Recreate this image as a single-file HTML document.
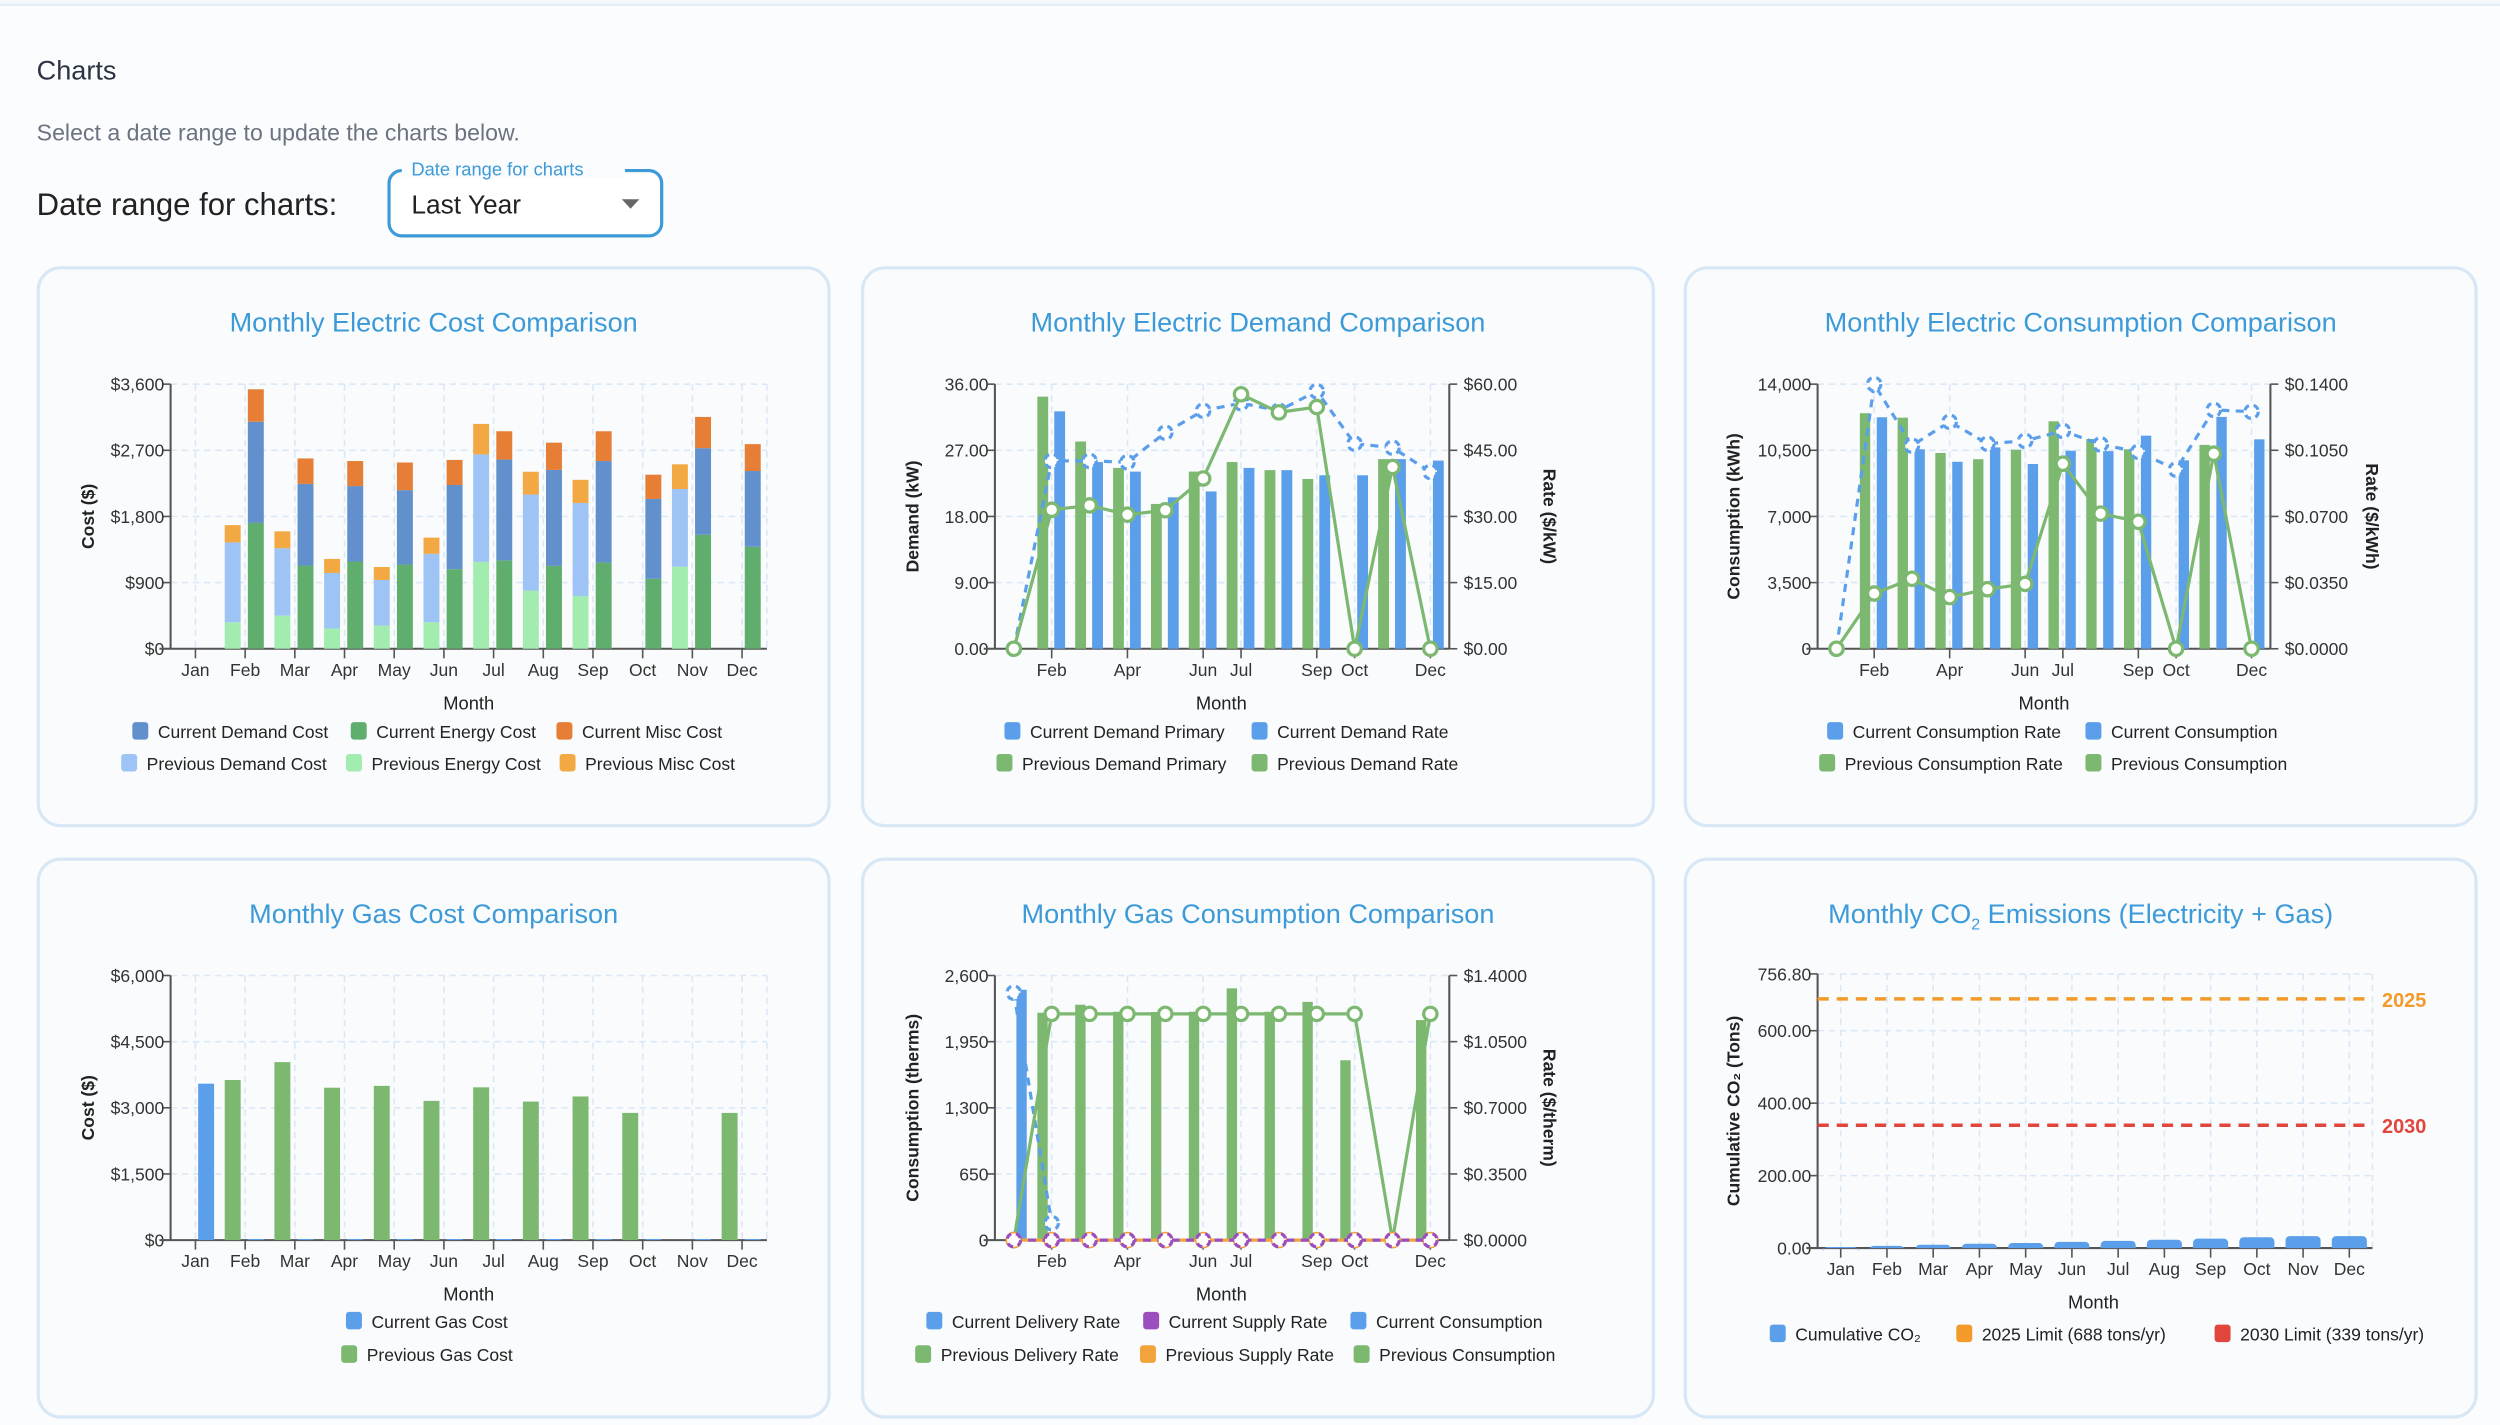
<!DOCTYPE html>
<html><head><meta charset="utf-8"><title>Charts</title>
<style>
html,body{margin:0;padding:0;background:#f4f7fb;}
svg{display:block;font-family:"Liberation Sans",sans-serif;}
</style></head>
<body>
<svg id="root" xmlns="http://www.w3.org/2000/svg" width="2500" height="1425" viewBox="0 0 1568 894" preserveAspectRatio="none"></svg>
<script>
// ---------- DATA ----------
const months = ['Jan','Feb','Mar','Apr','May','Jun','Jul','Aug','Sep','Oct','Nov','Dec'];
// Chart 1: electric cost
const elecCostTicks = [0, 900, 1800, 2700, 3600];
const elecCostTickLabels = ['$0', '$900', '$1,800', '$2,700', '$3,600'];
const elecPrevEnergy = [0,360,451,275,315,360,1182,791,716,0,1117,0];
const elecPrevDemand = [0,1087,916,756,621,932,1462,1307,1267,0,1056,0];
const elecPrevMisc   = [0,235,230,191,176,220,415,310,315,0,336,0];
const elecCurEnergy  = [0,1712,1132,1187,1147,1082,1202,1127,1172,951,1552,1387];
const elecCurDemand  = [0,1377,1111,1026,1011,1146,1372,1306,1382,1087,1177,1031];
const elecCurMisc    = [0,441,346,341,376,341,385,371,405,330,425,366];
// Chart 2: electric demand
const demandTicks = [0, 9, 18, 27, 36];
const demandTickLabels = ['0.00','9.00','18.00','27.00','36.00'];
const demandRateTicks = [0, 15, 30, 45, 60];
const demandRateTickLabels = ['$0.00','$15.00','$30.00','$45.00','$60.00'];
const demandPrev = [0,34.3,28.2,24.6,19.7,24.1,25.4,24.3,23.1,0,25.8,0];
const demandCur  = [0,32.3,25.4,24.1,20.6,21.4,24.6,24.3,23.6,23.6,25.8,25.6];
const demandRateCur  = [0,42.6,42.6,42.3,49.0,54.0,55.7,54.0,58.4,46.5,45.6,40.1];
const demandRatePrev = [0,31.5,32.5,30.4,31.4,38.6,57.7,53.6,54.8,0,41.2,0];
// Chart 3: electric consumption
const consTicks = [0, 3500, 7000, 10500, 14000];
const consTickLabels = ['0','3,500','7,000','10,500','14,000'];
const consRateTicks = [0, 0.035, 0.07, 0.105, 0.14];
const consRateTickLabels = ['$0.0000','$0.0350','$0.0700','$0.1050','$0.1400'];
const consPrev = [0,12462,12228,10359,10028,10534,12033,11099,10554,0,10787,0];
const consCur  = [0,12247,10554,9892,10651,9774,10476,10456,11274,9969,12267,11079];
const consRateCur  = [0,0.1400,0.1075,0.1201,0.1085,0.1100,0.1153,0.1081,0.1042,0.0948,0.1264,0.1254];
const consRatePrev = [0,0.0292,0.0370,0.0273,0.0315,0.0343,0.0979,0.0715,0.0672,0,0.1032,0];
// Chart 4: gas cost
const gasCostTicks = [0, 1500, 3000, 4500, 6000];
const gasCostTickLabels = ['$0','$1,500','$3,000','$4,500','$6,000'];
const gasCostCur  = [3547,25,25,25,25,25,25,25,25,25,25,25];
const gasCostPrev = [0,3630,4036,3456,3497,3157,3464,3141,3257,2884,0,2884];
// Chart 5: gas consumption
const gasConsTicks = [0, 650, 1300, 1950, 2600];
const gasConsTickLabels = ['0','650','1,300','1,950','2,600'];
const gasRateTicks = [0, 0.35, 0.7, 1.05, 1.4];
const gasRateTickLabels = ['$0.0000','$0.3500','$0.7000','$1.0500','$1.4000'];
const gasConsCur  = [2460,0,0,0,0,0,0,0,0,0,0,0];
const gasConsPrev = [0,2234,2313,2244,2241,2244,2474,2244,2341,1767,0,2162];
const gasDeliveryCur  = [1.309,0.09,null,null,null,null,null,null,null,null,null,null];
const gasDeliveryPrev = [0,1.197,1.197,1.197,1.197,1.197,1.197,1.197,1.197,1.197,0,1.197];
const gasSupplyCur  = [0,0,0,0,0,0,0,0,0,0,0,0];
const gasSupplyPrev = [0,0,0,0,0,0,0,0,0,0,0,0];
// Chart 6: CO2
const co2Ticks = [0, 200, 400, 600, 756.8];
const co2TickLabels = ['0.00','200.00','400.00','600.00','756.80'];
const co2Cumulative = [3,6,9,12,14,17,20,23,26,30,33,33];
const co2Limit2025 = 688;
const co2Limit2030 = 339;

// ---------- HELPERS ----------
const NS = 'http://www.w3.org/2000/svg';
const root = document.getElementById('root');
function add(parent, tag, attrs, txt){
  const e = document.createElementNS(NS, tag);
  for (const k in attrs) e.setAttribute(k, attrs[k]);
  if (txt !== undefined) e.textContent = txt;
  parent.appendChild(e);
  return e;
}
function label(e, name, inter){
  
  
  return e;
}
function bandX(left, right, i){ return left + (right-left)/12*(i+0.5); }
function yScale(v, max, top, bottom){ return bottom - (v/max)*(bottom-top); }
const AX = '#555', GRID = '#dbe8f5', TXT = '#333';
const BLUE = '#5b9fea', GREEN = '#7cb870';

function frame(g, o){
  // horizontal grid + left ticks
  o.ticks.forEach((t,i)=>{
    const y = yScale(t, o.max, o.top, o.bottom);
    if (i>0){
      const gl = add(g,'line',{x1:o.left,x2:o.gridRight,y1:y,y2:y,stroke:GRID,'stroke-width':1,'stroke-dasharray':'4,3'});
      label(gl,'y-gridline',false);
    }
    const tk = add(g,'line',{x1:o.left-5,x2:o.left,y1:y,y2:y,stroke:AX,'stroke-width':1});
    label(tk,'y-tick',false);
    const tl = add(g,'text',{x:o.left-4,y:y+4,'text-anchor':'end','font-size':11,fill:TXT},o.tickLabels[i]);
    label(tl,'y-tick-label',false);
  });
  // vertical grid + month ticks
  o.monthShow.forEach(i=>{
    const x = bandX(o.left,o.plotRight,i);
    const vg = add(g,'line',{x1:x,x2:x,y1:o.top,y2:o.bottom,stroke:GRID,'stroke-width':1,'stroke-dasharray':'4,3'});
    label(vg,'x-gridline',false);
    const tk = add(g,'line',{x1:x,x2:x,y1:o.bottom,y2:o.bottom+6,stroke:AX,'stroke-width':1});
    label(tk,'x-tick',false);
    const tl = add(g,'text',{x:x,y:o.bottom+17,'text-anchor':'middle','font-size':11,fill:TXT},months[i]);
    label(tl,'x-tick-label',false);
  });
  const vge = add(g,'line',{x1:o.gridRight,x2:o.gridRight,y1:o.top,y2:o.bottom,stroke:GRID,'stroke-width':1,'stroke-dasharray':'4,3'});
  label(vge,'x-gridline',false);
  const ya = add(g,'line',{x1:o.left,x2:o.left,y1:o.top,y2:o.bottom,stroke:AX,'stroke-width':1.3});
  label(ya,'y-axis-line',false);
  const xa = add(g,'line',{x1:o.left-7,x2:o.gridRight,y1:o.bottom,y2:o.bottom,stroke:AX,'stroke-width':1.3});
  label(xa,'x-axis-line',false);
  if (o.rTicks){
    const ra = add(g,'line',{x1:o.plotRight,x2:o.plotRight,y1:o.top,y2:o.bottom,stroke:AX,'stroke-width':1.3});
    label(ra,'right-axis-line',false);
    o.rTicks.forEach((t,i)=>{
      const y = yScale(t,o.rMax,o.top,o.bottom);
      const tk = add(g,'line',{x1:o.plotRight,x2:o.plotRight+5,y1:y,y2:y,stroke:AX,'stroke-width':1});
      label(tk,'right-tick',false);
      const tl = add(g,'text',{x:o.plotRight+9,y:y+4,'font-size':11,fill:TXT},o.rLabels[i]);
      label(tl,'right-tick-label',false);
    });
    const rt = add(g,'text',{x:0,y:0,transform:`translate(${o.rTitleX},${(o.top+o.bottom)/2}) rotate(90)`,'text-anchor':'middle','font-size':11,'font-weight':'bold',fill:'#222'},o.rTitle);
    label(rt,'right-axis-title',false);
  }
  const lt = add(g,'text',{x:0,y:0,transform:`translate(${o.lTitleX},${(o.top+o.bottom)/2}) rotate(-90)`,'text-anchor':'middle','font-size':11,'font-weight':'bold',fill:'#222'},o.lTitle);
  label(lt,'y-axis-title',false);
  const mt = add(g,'text',{x:o.monthX,y:o.monthY,'text-anchor':'middle','font-size':11.5,fill:'#222'},'Month');
  label(mt,'x-axis-title',false);
}
function legend(g, items){
  items.forEach(it=>{
    const lg = add(g,'g',{});
    label(lg,'legend-entry',true);
    const sq = add(lg,'rect',{x:it[0],y:it[1]-6,width:10,height:11,rx:2,fill:it[2]});
    label(sq,'legend-swatch',false);
    const tx = add(lg,'text',{x:it[0]+16,y:it[1]+4,'font-size':11,fill:'#222'},it[3]);
    label(tx,'legend-label',false);
  });
}
function card(x,y,title,name,titleCx){
  const g = add(root,'g',{});
  label(g,name,false);
  const r = add(g,'rect',{x:x,y:y,width:496,height:350,rx:14,fill:'#f9fbfd',stroke:'#d8e7f5','stroke-width':2});
  label(r,'card-background',false);
  const t = add(g,'text',{x:x+248,y:y+40,'text-anchor':'middle','font-size':17,fill:'#3d9ad8'},title);
  label(t,'chart-title',false);
  return g;
}
function line(g, vals, max, o, color, dashed, name){
  const pts = [];
  vals.forEach((v,i)=>{ if (v!==null) pts.push([bandX(o.left,o.plotRight,i), yScale(v,max,o.top,o.bottom)]); });
  const p = add(g,'polyline',{points:pts.map(p=>p.join(',')).join(' '),fill:'none',stroke:color,'stroke-width':2,'stroke-dasharray':dashed?'5,4':'none'});
  label(p,name+'-line',false);
  pts.forEach(pt=>{
    const c = add(g,'circle',{cx:pt[0],cy:pt[1],r:4.2,fill:'#fff',stroke:color,'stroke-width':2,'stroke-dasharray':dashed?'4,3':'none'});
    label(c,name+'-point',true);
  });
}
function bars(g, vals, max, o, color, off, w, name){
  vals.forEach((v,i)=>{
    if (!v) return;
    const x = bandX(o.left,o.plotRight,i)+off;
    const y = yScale(v,max,o.top,o.bottom);
    const b = add(g,'rect',{x:x,y:y,width:w,height:o.bottom-y,fill:color});
    label(b,name,true);
  });
}

// ---------- PAGE ----------
const panel = add(root,'rect',{x:-12,y:3,width:1600,height:900,rx:14,fill:'#fbfcfe',stroke:'#e5edf6','stroke-width':1.5});
label(panel,'page-panel',false);
const h = add(root,'text',{x:23,y:50,'font-size':17,fill:'#2b3242'},'Charts');
label(h,'section-heading',false);
const sub = add(root,'text',{x:23,y:88,'font-size':14.5,fill:'#6b7280'},'Select a date range to update the charts below.');
label(sub,'section-description',false);
const dl = add(root,'text',{x:23,y:135,'font-size':19.5,'font-weight':'500',fill:'#222'},'Date range for charts:');
label(dl,'date-range-label',false);
const sel = add(root,'g',{});
label(sel,'date-range-select',true);
const sb = add(sel,'rect',{x:244,y:107,width:171,height:41,rx:8,fill:'#fff',stroke:'#3d9ad8','stroke-width':2});
label(sb,'select-box',true);
const gap = add(sel,'rect',{x:252,y:100,width:140,height:12,fill:'#fbfcfe'});
label(gap,'select-label-gap',false);
const sl = add(sel,'text',{x:258,y:110,'font-size':11.5,fill:'#3d9ad8'},'Date range for charts');
label(sl,'select-floating-label',false);
const sv = add(sel,'text',{x:258,y:134,'font-size':16.5,fill:'#222'},'Last Year');
label(sv,'select-value',false);
const sa = add(sel,'path',{d:'M390,125 L401,125 L395.5,131 Z',fill:'#666'});
label(sa,'select-arrow',true);

const allM = [0,1,2,3,4,5,6,7,8,9,10,11];
const someM = [1,3,5,6,8,9,11];

// Chart 1
{
  const g = card(24,168,'Monthly Electric Cost Comparison','electric-cost-card');
  const o = {left:107,plotRight:481,gridRight:481,top:241,bottom:407,max:3600,ticks:elecCostTicks,tickLabels:elecCostTickLabels,monthShow:allM,lTitle:'Cost ($)',lTitleX:59,monthX:294,monthY:445};
  frame(g,o);
  const stack = (a,b,c,offx,colors,names)=>{
    a.forEach((_,i)=>{
      let base = 0;
      [a,b,c].forEach((arr,k)=>{
        const v = arr[i]; if(!v) return;
        const x = bandX(o.left,o.plotRight,i)+offx;
        const y1 = yScale(base+v,o.max,o.top,o.bottom), y0 = yScale(base,o.max,o.top,o.bottom);
        const r = add(g,'rect',{x:x,y:y1,width:10,height:y0-y1,fill:colors[k]});
        label(r,names[k],true);
        base += v;
      });
    });
  };
  stack(elecPrevEnergy,elecPrevDemand,elecPrevMisc,-12.8,['#a2ecb0','#9dc4f5','#f3a943'],['bar-previous-energy','bar-previous-demand','bar-previous-misc']);
  stack(elecCurEnergy,elecCurDemand,elecCurMisc,1.7,['#5fae6e','#6190cc','#e67e36'],['bar-current-energy','bar-current-demand','bar-current-misc']);
  legend(g,[[83,459,'#6190cc','Current Demand Cost'],[220,459,'#5fae6e','Current Energy Cost'],[349,459,'#e67e36','Current Misc Cost'],
            [76,479,'#9dc4f5','Previous Demand Cost'],[217,479,'#a2ecb0','Previous Energy Cost'],[351,479,'#f3a943','Previous Misc Cost']]);
}
// Chart 2
{
  const g = card(541,168,'Monthly Electric Demand Comparison','electric-demand-card');
  const o = {left:624,plotRight:909,gridRight:909,top:241,bottom:407,max:36,ticks:demandTicks,tickLabels:demandTickLabels,monthShow:someM,lTitle:'Demand (kW)',lTitleX:576,monthX:766,monthY:445,rTicks:demandRateTicks,rMax:60,rLabels:demandRateTickLabels,rTitle:'Rate ($/kW)',rTitleX:968};
  frame(g,o);
  bars(g,demandPrev,36,o,GREEN,-9,6.8,'bar-previous-demand');
  bars(g,demandCur,36,o,BLUE,1.6,6.8,'bar-current-demand');
  line(g,demandRateCur,60,o,BLUE,true,'current-demand-rate');
  line(g,demandRatePrev,60,o,GREEN,false,'previous-demand-rate');
  legend(g,[[630,459,BLUE,'Current Demand Primary'],[785,459,BLUE,'Current Demand Rate'],[625,479,GREEN,'Previous Demand Primary'],[785,479,GREEN,'Previous Demand Rate']]);
}
// Chart 3
{
  const g = card(1057,168,'Monthly Electric Consumption Comparison','electric-consumption-card');
  const o = {left:1140,plotRight:1424,gridRight:1424,top:241,bottom:407,max:14000,ticks:consTicks,tickLabels:consTickLabels,monthShow:someM,lTitle:'Consumption (kWh)',lTitleX:1091,monthX:1282,monthY:445,rTicks:consRateTicks,rMax:0.14,rLabels:consRateTickLabels,rTitle:'Rate ($/kWh)',rTitleX:1484};
  frame(g,o);
  bars(g,consPrev,14000,o,GREEN,-9,6.5,'bar-previous-consumption');
  bars(g,consCur,14000,o,BLUE,1.6,6.5,'bar-current-consumption');
  line(g,consRateCur,0.14,o,BLUE,true,'current-consumption-rate');
  line(g,consRatePrev,0.14,o,GREEN,false,'previous-consumption-rate');
  legend(g,[[1146,459,BLUE,'Current Consumption Rate'],[1308,459,BLUE,'Current Consumption'],[1141,479,GREEN,'Previous Consumption Rate'],[1308,479,GREEN,'Previous Consumption']]);
}
// Chart 4
{
  const g = card(24,539,'Monthly Gas Cost Comparison','gas-cost-card');
  const o = {left:107,plotRight:481,gridRight:481,top:612,bottom:778,max:6000,ticks:gasCostTicks,tickLabels:gasCostTickLabels,monthShow:allM,lTitle:'Cost ($)',lTitleX:59,monthX:294,monthY:816};
  frame(g,o);
  bars(g,gasCostPrev,6000,o,GREEN,-12.8,10,'bar-previous-gas-cost');
  bars(g,gasCostCur,6000,o,BLUE,1.7,10,'bar-current-gas-cost');
  legend(g,[[217,829,BLUE,'Current Gas Cost'],[214,850,GREEN,'Previous Gas Cost']]);
}
// Chart 5
{
  const g = card(541,539,'Monthly Gas Consumption Comparison','gas-consumption-card');
  const o = {left:624,plotRight:909,gridRight:909,top:612,bottom:778,max:2600,ticks:gasConsTicks,tickLabels:gasConsTickLabels,monthShow:someM,lTitle:'Consumption (therms)',lTitleX:576,monthX:766,monthY:816,rTicks:gasRateTicks,rMax:1.4,rLabels:gasRateTickLabels,rTitle:'Rate ($/therm)',rTitleX:968};
  frame(g,o);
  bars(g,gasConsPrev,2600,o,GREEN,-9,6.5,'bar-previous-gas-consumption');
  bars(g,gasConsCur,2600,o,BLUE,1.6,6.5,'bar-current-gas-consumption');
  line(g,gasDeliveryCur,1.4,o,BLUE,true,'current-delivery-rate');
  line(g,gasDeliveryPrev,1.4,o,GREEN,false,'previous-delivery-rate');
  line(g,gasSupplyPrev,1.4,o,'#f2a33c',false,'previous-supply-rate');
  line(g,gasSupplyCur,1.4,o,'#9b4fbf',true,'current-supply-rate');
  legend(g,[[581,829,BLUE,'Current Delivery Rate'],[717,829,'#9b4fbf','Current Supply Rate'],[847,829,BLUE,'Current Consumption'],
            [574,850,GREEN,'Previous Delivery Rate'],[715,850,'#f2a33c','Previous Supply Rate'],[849,850,GREEN,'Previous Consumption']]);
}
// Chart 6
{
  const g = card(1057,539,'','co2-card');
  const t = add(g,'text',{x:1305,y:579,'text-anchor':'middle','font-size':17,fill:'#3d9ad8'});
  label(t,'chart-title',false);
  add(t,'tspan',{},'Monthly CO');
  add(t,'tspan',{'font-size':10,dy:4},'2');
  add(t,'tspan',{dy:-4},' Emissions (Electricity + Gas)');
  const o = {left:1140,plotRight:1488,gridRight:1488,top:611,bottom:783,max:756.8,ticks:co2Ticks,tickLabels:co2TickLabels,monthShow:allM,lTitle:'Cumulative CO₂ (Tons)',lTitleX:1091,monthX:1313,monthY:821};
  frame(g,o);
  co2Cumulative.forEach((v,i)=>{
    const x = bandX(o.left,o.plotRight,i)-11;
    const y = yScale(v,o.max,o.top,o.bottom);
    const b = add(g,'path',{d:`M${x},${o.bottom} L${x},${y+3} Q${x},${y} ${x+3},${y} L${x+19},${y} Q${x+22},${y} ${x+22},${y+3} L${x+22},${o.bottom} Z`,fill:BLUE});
    label(b,'bar-cumulative-co2',true);
  });
  [[co2Limit2025,'#f39a2b','2025'],[co2Limit2030,'#e0463b','2030']].forEach(l=>{
    const y = yScale(l[0],o.max,o.top,o.bottom);
    const ln = add(g,'line',{x1:o.left,x2:o.gridRight,y1:y,y2:y,stroke:l[1],'stroke-width':2.2,'stroke-dasharray':'7,5'});
    label(ln,'limit-line-'+l[2],false);
    const lt = add(g,'text',{x:1494,y:y+5,'font-size':12.5,'font-weight':'bold',fill:l[1]},l[2]);
    label(lt,'limit-label-'+l[2],false);
  });
  legend(g,[[1110,837,BLUE,'Cumulative CO₂'],[1227,837,'#f39a2b','2025 Limit (688 tons/yr)'],[1389,837,'#e0463b','2030 Limit (339 tons/yr)']]);
}
</script>
</body></html>
